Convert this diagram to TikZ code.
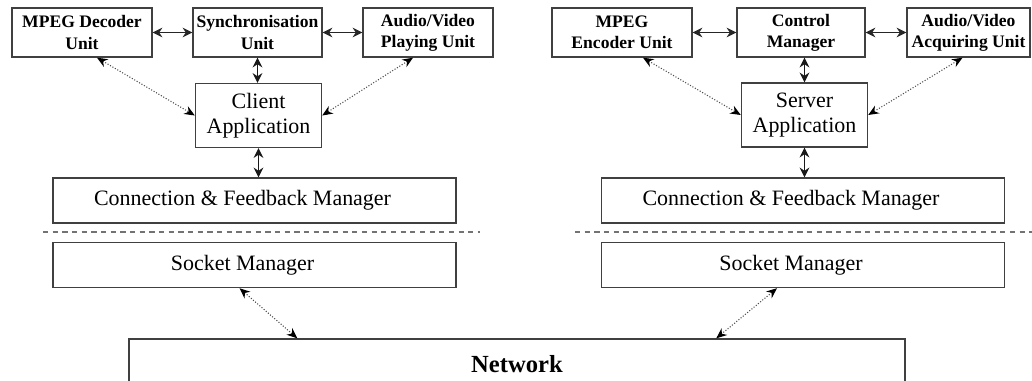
\documentclass[tikz,border=0pt]{standalone}
\usepackage{fontspec}
\setmainfont{Liberation Serif}
\usetikzlibrary{arrows.meta,calc}

\begin{document}
\begin{tikzpicture}[x=0.02cm, y=-0.02cm]
    \tikzstyle{box}=[draw=black!75, line width=0.8pt, inner sep=0pt, align=center]
    \tikzstyle{unit}=[box, minimum height=49*\u, font=\fontsize{10}{12}\selectfont\bfseries]
    \tikzstyle{app}=[box, minimum width=126*\u, minimum height=64*\u, font=\fontsize{12.5}{14.5}\selectfont]
    \tikzstyle{layer}=[box, minimum width=403*\u, minimum height=45*\u, font=\fontsize{12.5}{14.5}\selectfont]
    \tikzstyle{harr}=[line width=0.8pt, black!85, {Stealth[length=5.5pt,width=5.5pt]}-{Stealth[length=5.5pt,width=5.5pt]}]
    \tikzstyle{varr}=[line width=1.1pt, black!90, {Stealth[length=5.5pt,width=5.5pt]}-{Stealth[length=5.5pt,width=5.5pt]}]
    \tikzstyle{darr}=[line width=0.6pt, black!70, densely dotted, {Stealth[length=6pt,width=5pt,black]}-{Stealth[length=6pt,width=5pt,black]}]
    \tikzstyle{sep}=[line width=0.6pt, black!55, dashed, dash pattern=on 3pt off 2.5pt]
    \def\u{0.02cm}

    \clip (0,0) rectangle (1032,381);

    % client side
    \node[unit, minimum width=140*\u] (dec) at (82,32.5) {MPEG Decoder\\Unit};
    \node[unit, minimum width=129*\u] (sync) at (257.5,32.5) {Synchronisation\\Unit};
    \node[unit, minimum width=130*\u] (play) at (428,32.5) {Audio/Video\\Playing Unit};
    \node[app] (client) at (258.5,115.5) {Client\\Application};
    \node[layer] (connL) at (254.5,200.5) {Connection \& Feedback Manager\hspace{0.48cm}};
    \node[layer] (sockL) at (254.5,265) {Socket Manager\hspace{0.48cm}};

    % server side
    \node[unit, minimum width=140*\u] (enc) at (622,32.5) {MPEG\\Encoder Unit};
    \node[unit, minimum width=128*\u] (ctrl) at (801,32.5) {Control\\Manager};
    \node[unit, minimum width=123*\u] (acq) at (968.5,32.5) {Audio/Video\\Acquiring Unit};
    \node[app] (server) at (804.5,115) {Server\\Application};
    \node[layer] (connR) at (803,200.5) {Connection \& Feedback Manager\hspace{0.48cm}};
    \node[layer] (sockR) at (803,265) {Socket Manager\hspace{0.48cm}};

    \node[box, minimum width=776*\u, minimum height=50*\u,
          font=\fontsize{14}{16}\selectfont\bfseries] (net) at (517,364) {Network};

    \draw[sep] (43,232) -- (480,232);
    \draw[sep] (575,232) -- (1032,232);

    \foreach \a/\b in {dec/sync, sync/play, enc/ctrl, ctrl/acq} {
        \draw[harr] (\a) -- (\b);
    }
    \draw[varr] (sync.south) -- (sync.south |- client.north);
    \draw[varr] (client.south) -- (client.south |- connL.north);
    \draw[varr] (server.north |- ctrl.south) -- (server.north);
    \draw[varr] (server.south) -- (server.south |- connR.north);

    \draw[darr] ($(dec.south)+(15,0)$) -- (client.west);
    \draw[darr] ($(play.south)+(-15,0)$) -- (client.east);
    \draw[darr] ($(enc.south)+(21,0)$) -- (server.west);
    \draw[darr] ($(acq.south)+(-6,0)$) -- (server.east);
    \draw[darr] ($(sockL.south)+(-15,0)$) -- ($(net.north west)+(169,0)$);
    \draw[darr] ($(sockR.south)+(-26,0)$) -- ($(net.north west)+(588,0)$);
\end{tikzpicture}
\end{document}
